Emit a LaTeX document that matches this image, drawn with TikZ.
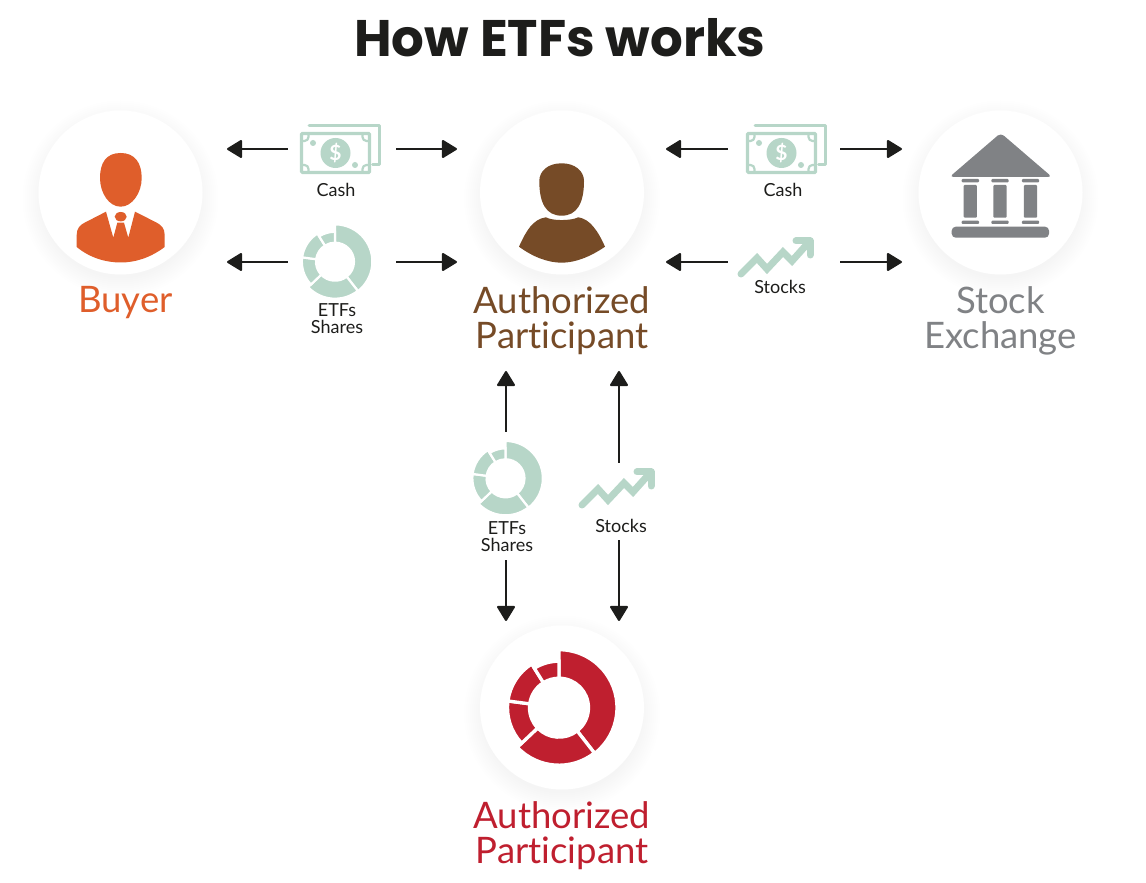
\documentclass[tikz,border=0pt]{standalone}
\usepackage{fontspec}
\setmainfont{Lato}[Ligatures=NoCommon]
\newfontfamily\titlefont{Poppins}
\usepackage{xcolor}
\definecolor{etfgreen}{HTML}{B7D6C8}
\definecolor{etfdark}{HTML}{1D1D1B}
\definecolor{etforange}{HTML}{DF5E2B}
\definecolor{etfbrown}{HTML}{764B27}
\definecolor{etfgray}{HTML}{808285}
\definecolor{etfred}{HTML}{BF1F2F}
\usetikzlibrary{arrows.meta,positioning,backgrounds}

\begin{document}
\begin{tikzpicture}[x=1pt,y=1pt,>={Triangle[length=16pt,width=19pt,round,line width=2pt]}]
\tikzset{
 disc/.style={circle,fill=white,inner sep=0pt,minimum size=164pt},
 big/.style={align=center,inner sep=0pt,font=\fontsize{36.5}{35}\selectfont},
 small/.style={align=center,inner sep=0pt,text=etfdark,font=\fontsize{18}{16.5}\selectfont},
 slot/.style={inner sep=0pt,minimum width=#1,minimum height=1pt},
 upright/.style={inner sep=0pt,minimum height=#1,minimum width=1pt},
 a/.style={->,draw=etfdark,line width=2.8pt},
 pics/donut/.style 2 args={code={
  \foreach \from/\to/\R in {90/-52/58,-52/-136.5/57.5,-136.5/-187.5/51.5,-187.5/-238/51.5,-238/-270/46.5}{
   \filldraw[fill=#1,draw=white,line width=#2]
    (\from:29.5) arc[start angle=\from,end angle=\to,radius=29.5]
    -- (\to:\R) arc[start angle=\to,end angle=\from,radius=\R] -- cycle;}
 }},
 pics/cash/.style={code={
  \draw[etfgreen,line width=3pt,line cap=round,line join=round] (-26.5,27.5)--(43.5,27.5)--(43.5,-12)--(37,-12);
  \draw[etfgreen,line width=3.2pt,rounded corners=1pt,fill=white] (-34,-19.5) rectangle (34,19.5);
  \draw[etfgreen,line width=2.2pt] (-34,12)--(-31,12) arc[start angle=-90,end angle=0,radius=4]--(-27,19.5);
  \draw[etfgreen,line width=2.2pt] (34,12)--(31,12) arc[start angle=-90,end angle=-180,radius=4]--(27,19.5);
  \draw[etfgreen,line width=2.2pt] (-34,-12)--(-31,-12) arc[start angle=90,end angle=0,radius=4]--(-27,-19.5);
  \draw[etfgreen,line width=2.2pt] (34,-12)--(31,-12) arc[start angle=90,end angle=180,radius=4]--(27,-19.5);
  \fill[etfgreen] (0,0) circle (15);
  \fill[etfgreen] (-22.5,10) circle (3) (19.5,-12) circle (3);
  \node[inner sep=0pt,text=white,font=\fontsize{21}{21}\selectfont\bfseries] (dollar) at (0,0) {\$};
 }},
 pics/stocks/.style={code={
  \draw[etfgreen,line width=7pt,line cap=round,line join=miter] (-35,-16)--(-19,0)--(-9,-11)--(7,6)--(16,-3)--(33,16);
  \draw[etfgreen,line width=7pt,line cap=round,line join=round] (20,17)--(34,17)--(34,3);
 }}
}
\useasboundingbox (0,0) rectangle (1146,883);
\node[inner sep=0pt,text=etfdark,font=\titlefont\fontsize{51.4}{50}\selectfont\bfseries] (title) at (560,845) {How ETFs works};

\node[disc] (buyer) at (120.5,690.5) {};
\node[disc] (auth) at (562,690.5) {};
\node[disc] (exch) at (1000.5,690.5) {};
\node[disc] (fund) at (562,175.5) {};
\begin{scope}[on background layer]
\foreach \c in {buyer,auth,exch,fund}{
 \foreach \r in {80,82,...,98}{\fill[black,opacity=.0035] (\c)++(0,-6) circle (\r);}
}
\end{scope}

\node[big,text=etforange,below=11.5pt of buyer,xshift=5pt] (buyerlab) {Buyer};
\node[big,text=etfbrown,below=11.5pt of auth] (authlab) {Authorized\\Participant};
\node[big,text=etfgray,below=11.5pt of exch] (exchlab) {Stock\\Exchange};
\node[big,text=etfred,below=11.5pt of fund] (fundlab) {Authorized\\Participant};

% buyer figure
\fill[etforange] (120.7,730) .. controls (135,730) and (141.7,720) .. (141.7,705) .. controls (141.7,690) and (132,676.3) .. (120.7,676.3) .. controls (109,676.3) and (100,690) .. (100,705) .. controls (100,720) and (106,730) .. (120.7,730);
\fill[etforange] (76.7,636)--(76.7,648) .. controls (76.7,655) and (80,658) .. (85,660.5)--(106,671.3)--(113.3,645.3)--(117.3,660.3)--(124,660.3)--(128.3,645.3)--(135,671.3)--(156.4,660.5) .. controls (161,658) and (164.7,655) .. (164.7,648)--(164.7,636) .. controls (150,625) and (135,620.5) .. (120.7,620.5) .. controls (106,620.5) and (90,625) .. (76.7,636);
\fill[etforange] (120.7,666.3) ellipse (6 and 4.7);

% participant figure
\fill[etfbrown] (561.7,719.7) .. controls (575,719.7) and (584,712) .. (584,702) .. controls (584,680) and (577,667.3) .. (561.7,667.3) .. controls (546,667.3) and (539.3,680) .. (539.3,702) .. controls (539.3,712) and (548,719.7) .. (561.7,719.7);
\fill[etfbrown] (519,636.3) .. controls (526,652) and (533,664) .. (546,665.7) .. controls (552,662) and (571,662) .. (578.3,665.7) .. controls (590,664) and (598,652) .. (605,636.3) .. controls (590,626) and (575,620.3) .. (561.7,620.3) .. controls (548,620.3) and (533,626) .. (519,636.3);

% bank
\fill[etfgray,rounded corners=4pt] (1000.7,750) -- (1052,706) -- (949.5,706) -- cycle;
\fill[etfgray,rounded corners=4pt] (951.7,645.3) rectangle (1049,656.3);
\foreach \x in {970.3,1000,1030.5}{
 \fill[etfgray,rounded corners=1pt] (\x-8.7,700.7) rectangle (\x+8.7,704);
 \fill[etfgray,rounded corners=1pt] (\x-6.6,665.3) rectangle (\x+6.6,698);
 \fill[etfgray,rounded corners=1pt] (\x-8.7,659) rectangle (\x+8.7,662.3);
}

% icons
\pic at (335.5,730) {cash};
\pic at (781.5,730) {cash};
\pic[scale=.644] at (335,621.3) {donut={etfgreen}{2.2pt}};
\pic[scale=.644] at (505.5,404.7) {donut={etfgreen}{2.2pt}};
\pic at (559,175.3) {donut={etfred}{3.3pt}};
\pic at (776,625) {stocks};
\pic at (617,394) {stocks};

\node[small] (cash1lab) at (336,693) {Cash};
\node[small] (cash2lab) at (783,693) {Cash};
\node[small] (etf1lab) at (337,564.5) {ETFs\\Shares};
\node[small] (etf2lab) at (507,346.5) {ETFs\\Shares};
\node[small] (stock1lab) at (780,596) {Stocks};
\node[small] (stock2lab) at (621,357) {Stocks};

% arrows leave the icon slots
\node[slot=108pt] (cash1) at (342,734) {};
\node[slot=108pt] (etf1) at (342,621) {};
\node[slot=112pt] (cash2) at (784,734) {};
\node[slot=112pt] (stock1) at (784,621) {};
\node[upright=128pt] (etf2) at (506,387) {};
\node[upright=77pt] (stock2) at (619,381.5) {};
\coordinate (c1l) at (227,734);
\coordinate (c1r) at (457,734);
\coordinate (e1l) at (227,621);
\coordinate (e1r) at (457,621);
\coordinate (c2l) at (666,734);
\coordinate (c2r) at (902,734);
\coordinate (s1l) at (666,621);
\coordinate (s1r) at (902,621);
\coordinate (e2t) at (506,512);
\coordinate (e2b) at (506,262);
\coordinate (s2t) at (619,512);
\coordinate (s2b) at (619,262);
\foreach \i/\j in {cash1.west/c1l,cash1.east/c1r,etf1.west/e1l,etf1.east/e1r,cash2.west/c2l,cash2.east/c2r,stock1.west/s1l,stock1.east/s1r,etf2.north/e2t,etf2.south/e2b,stock2.north/s2t,stock2.south/s2b}{\draw[a] (\i)--(\j);}
\end{tikzpicture}
\end{document}
